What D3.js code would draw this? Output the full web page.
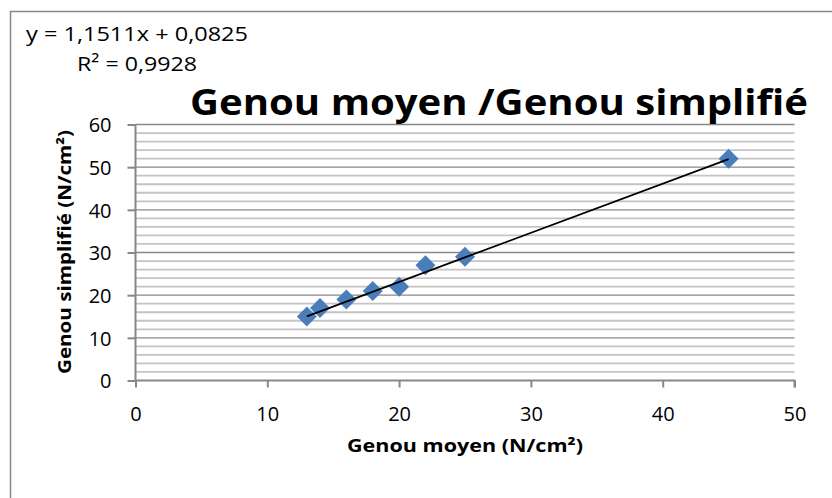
<!DOCTYPE html>
<html><head><meta charset="utf-8">
<script src="https://cdn.jsdelivr.net/npm/d3@7"></script>
<style>body{margin:0;background:#fff}svg{display:block}text{font-family:"Open Sans","Noto Sans",sans-serif}</style>
</head><body><svg id="c" width="832" height="498"></svg>
<script>
const xValues = [13, 14, 16, 18, 20, 22, 25, 45];
const yValues = [15, 17, 19, 21, 22, 27, 29, 52];
const xTicks = [0, 10, 20, 30, 40, 50];
const yTicks = [0, 10, 20, 30, 40, 50, 60];
const slope = 1.1511, intercept = 0.0825;
const titleText = "Genou moyen /Genou simplifié";
const xLabel = "Genou moyen (N/cm²)";
const yLabel = "Genou simplifié (N/cm²)";
const eqText = "y = 1,1511x + 0,0825";
const r2Text = "R² = 0,9928";

const svg = d3.select("#c");
// outer chart border
svg.append("rect").attr("x",10.5).attr("y",11.5).attr("width",900).attr("height",600)
  .attr("fill","#fff").attr("stroke","#878787").attr("stroke-width",1.5);

const x = d3.scaleLinear().domain([0,50]).range([135.5,794.5]);
const y = d3.scaleLinear().domain([0,60]).range([380.5,124.5]);

// minor gridlines
const minor = d3.range(2,60,2).filter(v=>v%10!==0);
svg.append("g").selectAll("line").data(minor).join("line")
  .attr("x1",x(0)).attr("x2",x(50)).attr("y1",d=>y(d)).attr("y2",d=>y(d))
  .attr("stroke","#c4c4c4").attr("stroke-width",1.8);
// major gridlines
svg.append("g").selectAll("line").data(yTicks.filter(v=>v>0)).join("line")
  .attr("x1",x(0)).attr("x2",x(50)).attr("y1",d=>y(d)).attr("y2",d=>y(d))
  .attr("stroke","#878787").attr("stroke-width",1.4);

// axes
const yAxis = d3.axisLeft(y).tickValues(yTicks).tickSize(8).tickPadding(16);
const gy = svg.append("g").attr("transform",`translate(${x(0)},0)`).call(yAxis);
const xAxis = d3.axisBottom(x).tickValues(xTicks).tickSize(7).tickPadding(19);
const gx = svg.append("g").attr("transform",`translate(0,${y(0)})`).call(xAxis);
[gx,gy].forEach(g=>{
  g.select(".domain").attr("stroke","#878787").attr("stroke-width",2);
  g.selectAll(".tick line").attr("stroke","#878787").attr("stroke-width",2);
  g.selectAll(".tick text").attr("font-family","Open Sans, sans-serif").attr("font-size",20).attr("fill","#000");
});
gy.select(".domain").attr("d",`M0,${y(60)}V${y(0)}`);
gx.select(".domain").attr("d",`M${x(0)},0H${x(50)}V7`);
gy.selectAll(".tick text").attr("dy","0.36em");

// markers
const xmin = d3.min(xValues), xmax = d3.max(xValues);
const sym = d3.symbol().type(d3.symbolSquare).size(200);
svg.append("g").selectAll("path").data(xValues.map((v,i)=>[v,yValues[i]])).join("path")
  .attr("d",sym).attr("transform",d=>`translate(${x(d[0])},${y(d[1])}) rotate(45)`)
  .attr("fill","#4a7ebb");
// trendline
svg.append("line").attr("x1",x(xmin)).attr("y1",y(slope*xmin+intercept))
  .attr("x2",x(xmax)).attr("y2",y(slope*xmax+intercept))
  .attr("stroke","#000").attr("stroke-width",1.8);

// title
svg.append("text").attr("x",190).attr("y",115).attr("font-size",36).attr("font-weight","bold")
  .attr("textLength",618).attr("lengthAdjust","spacingAndGlyphs").text(titleText);
// equation
svg.append("text").attr("x",26).attr("y",41).attr("font-size",20)
  .attr("textLength",222).attr("lengthAdjust","spacingAndGlyphs").text(eqText);
svg.append("text").attr("x",77).attr("y",71).attr("font-size",20)
  .attr("textLength",120).attr("lengthAdjust","spacingAndGlyphs").text(r2Text);
// axis labels
svg.append("text").attr("x",465).attr("y",452).attr("text-anchor","middle").attr("font-size",18)
  .attr("font-weight","bold").attr("textLength",236).attr("lengthAdjust","spacingAndGlyphs").text(xLabel);
svg.append("text").attr("transform","translate(71,252) rotate(-90)").attr("text-anchor","middle")
  .attr("font-size",18).attr("font-weight","bold").attr("textLength",244).attr("lengthAdjust","spacingAndGlyphs").text(yLabel);
</script></body></html>
